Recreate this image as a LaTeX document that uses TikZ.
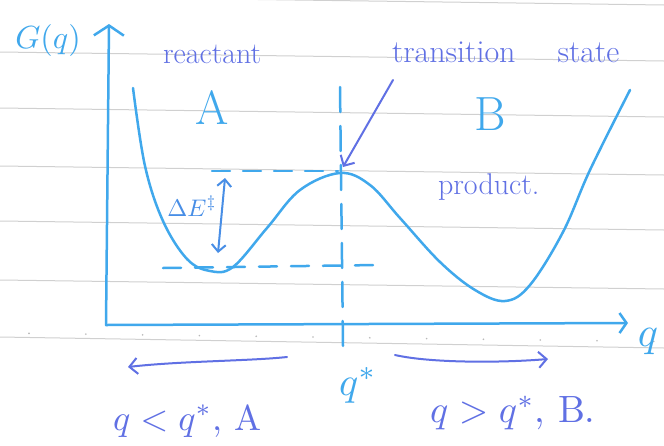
\documentclass[tikz,border=0pt]{standalone}
\usepackage{graphicx}
\usetikzlibrary{arrows.meta,calc}
\definecolor{pen}{RGB}{64,168,236}
\definecolor{ink}{RGB}{96,112,228}
\definecolor{midblue}{RGB}{72,142,230}
\definecolor{ruleline}{RGB}{208,208,208}
\begin{document}
\begin{tikzpicture}[x=1pt,y=-1pt,
  penline/.style={pen, line width=2.5pt, line cap=round, line join=round},
  inkline/.style={ink, line width=2pt, line cap=round, line join=round},
  barb/.style={-{Straight Barb[length=8pt,width=16pt]}},
  lbl/.style={inner sep=0pt, outer sep=0pt},
  dashlong/.style={dash pattern=on 25pt off 14pt}
]
\useasboundingbox (0,0) rectangle (664,445);
\fill[white] (0,0) rectangle (664,445);
% ruled paper
\foreach \y in {-4,52,108,166,221,280}
  \draw[ruleline, line width=1pt] (0,\y) -- (664,\y+9);
\draw[ruleline, line width=1pt] (0,337) -- (664,348);
\foreach \i in {0,...,11}
  \fill[gray!55] ({29+56.8*\i},{333+0.013*(29+56.8*\i)}) circle (0.9pt);

% axes
\coordinate (origin) at (106,325);
\coordinate (ytop) at (109,24);
\coordinate (xend) at (628,323);
\draw[penline, -{Straight Barb[length=10pt,width=30pt]}] (origin) -- (ytop);
\draw[penline, -{Straight Barb[length=7pt,width=20pt]}] (origin) -- (xend);
\node[lbl, pen, anchor=center] (gq) at (48,40) {\scalebox{3.2}{$G(q)$}};
\node[lbl, pen, anchor=center] (qax) at (648,342) {\scalebox{4.2}{$q$}};

% energy curve
\draw[penline] plot[smooth, tension=0.6] coordinates {
 (133,88) (145,166) (163,221) (187,259) (210,271) (233,267) (267,228)
 (300,190) (340,173) (370,185) (400,218) (440,262) (475,290) (505,301)
 (530,285) (563,232) (590,170) (630,90)};

% dashed guides
\draw[penline, dashlong] (340,87) -- (343,346);
\draw[penline, dash pattern=on 18pt off 13pt] (212,171) -- (338,171);
\draw[penline, dash pattern=on 18pt off 14pt] (163,268) -- (377,265);

% barrier arrow
\coordinate (dEtop) at (225,178);
\coordinate (dEbot) at (218,253);
\draw[midblue, line width=2pt, {Straight Barb[length=7pt,width=14pt]}-{Straight Barb[length=7pt,width=14pt]}] (dEtop) -- (dEbot);
\node[lbl, midblue, anchor=center] (dE) at (192,206) {\scalebox{2.4}{$\Delta E^{\ddagger}$}};

% labels
\node[lbl, ink, anchor=base west] (react) at (163,63) {\fontsize{30}{32}\selectfont reactant};
\node[lbl, pen, anchor=center] (A) at (212,108) {\fontsize{48}{50}\selectfont A};
\node[lbl, pen, anchor=center] (B) at (490,114) {\fontsize{48}{50}\selectfont B};
\node[lbl, ink, anchor=base west] (prod) at (438,194) {\fontsize{30}{32}\selectfont product.};
\node[lbl, ink, anchor=base west] (ts) at (392,62) {\fontsize{32}{34}\selectfont transition\hspace{42pt}state};
\coordinate (peak) at (343,167);
\draw[inkline, barb] ($(ts.base west)+(1,18)$) -- (peak);

% below axis
\node[lbl, pen, anchor=base west] (qstar) at (339,395) {\scalebox{4}{$q^{*}$}};
\coordinate (lstart) at (287,357);
\coordinate (lend) at (128,367);
\draw[inkline, barb] (lstart) .. controls (250,361) and (180,361) .. (lend);
\coordinate (rstart) at (395,355);
\coordinate (rend) at (548,359);
\draw[inkline, barb] (rstart) .. controls (430,363) and (500,363) .. (rend);
\node[lbl, ink, anchor=base west] (lessA) at (113,430) {\scalebox{3.6}{$q<q^{*}$, A}};
\node[lbl, ink, anchor=base west] (moreB) at (430,422) {\scalebox{3.8}{$q>q^{*}$, B.}};
\end{tikzpicture}
\end{document}
